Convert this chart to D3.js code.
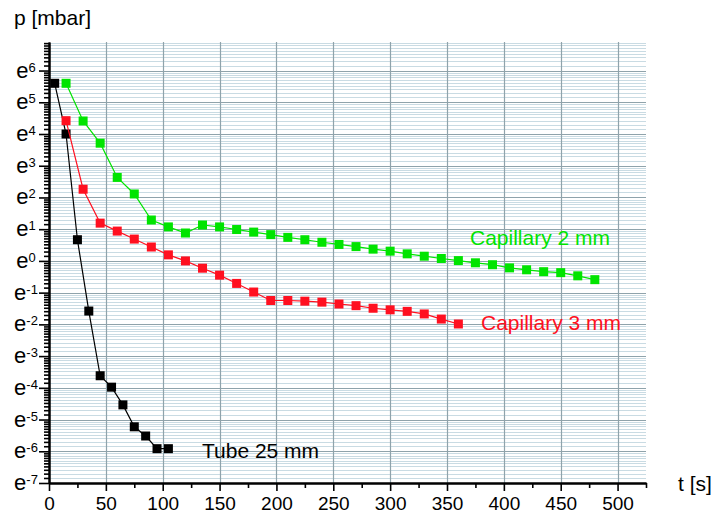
<!DOCTYPE html>
<html>
<head>
<meta charset="utf-8">
<script src="https://cdn.jsdelivr.net/npm/d3@7"></script>
<style>
  body { margin: 0; background: #fff; }
  text { font-family: "Liberation Sans", Arial, sans-serif; }
</style>
</head>
<body>
<div class="chart"></div>
<script>
// data (t in s, p in mbar)
var tubeTime = [5, 15, 25, 35, 45, 55, 65, 75, 85, 95, 105];
var tubeP = [270, 54.6, 1.95, 0.206, 0.0268, 0.0187, 0.0107, 0.00536, 0.00401, 0.00269, 0.00269];

var cap3Time = [15, 30, 45, 60, 75, 90, 105, 120, 135, 150, 165, 180, 195, 210, 225, 240,
  255, 270, 285, 300, 315, 330, 345, 360];
var cap3P = [83.1, 9.58, 3.29, 2.56, 1.99, 1.55, 1.21, 1.00, 0.795, 0.638, 0.492, 0.375,
  0.287, 0.287, 0.281, 0.273, 0.257, 0.244, 0.225, 0.214, 0.204, 0.188, 0.160, 0.137];

var cap2Time = [15, 30, 45, 60, 75, 90, 105, 120, 135, 150, 165, 180, 195, 210, 225, 240,
  255, 270, 285, 300, 315, 330, 345, 360, 375, 390, 405, 420, 435, 450, 465, 480];
var cap2P = [270, 82.3, 40.9, 13.9, 8.25, 3.63, 2.92, 2.41, 3.10, 2.92, 2.69, 2.48, 2.29,
  2.10, 1.95, 1.80, 1.68, 1.57, 1.45, 1.36, 1.25, 1.16, 1.08, 1.01, 0.942, 0.887, 0.803,
  0.756, 0.712, 0.691, 0.625, 0.554];

var xTicks = [0, 50, 100, 150, 200, 250, 300, 350, 400, 450, 500];
var xMinorTicks = [25, 75, 125, 175, 225, 275, 325, 375, 425, 475, 525];
var yExponents = [-7, -6, -5, -4, -3, -2, -1, 0, 1, 2, 3, 4, 5, 6];

var svgWidth = 714;
var svgHeight = 519;

var margin = {
  top: 42,
  right: 68,
  bottom: 36,
  left: 49
};

var width = svgWidth - margin.left - margin.right;
var height = svgHeight - margin.top - margin.bottom;

var svg = d3.select(".chart")
  .append("svg")
  .attr("width", svgWidth)
  .attr("height", svgHeight);

var chartGroup = svg.append("g")
  .attr("transform", `translate(${margin.left}, ${margin.top})`);

var xScale = d3.scaleLinear()
  .domain([0, 525])
  .range([0, width]);

var yScale = d3.scaleLog()
  .base(Math.E)
  .domain([Math.exp(-7), Math.exp(6.9)])
  .range([height, 0]);

// minor values inside each e-decade
var yMinor = [];
yExponents.forEach(function(n) {
  for (var k = 1; k <= 9; k++) {
    var v = Math.exp(n) * (1 + k * (Math.E - 1) / 10);
    if (v <= Math.exp(6.93)) yMinor.push(v);
  }
});
var yMajor = yExponents.map(n => Math.exp(n));

// grid
chartGroup.append("g")
  .selectAll("line")
  .data(yMinor)
  .enter()
  .append("line")
  .attr("x1", 0)
  .attr("x2", width)
  .attr("y1", d => Math.round(yScale(d)) + 0.5)
  .attr("y2", d => Math.round(yScale(d)) + 0.5)
  .attr("stroke", "#c9dbe3")
  .attr("stroke-width", 1);

chartGroup.append("g")
  .selectAll("line")
  .data(yMajor)
  .enter()
  .append("line")
  .attr("x1", 0)
  .attr("x2", width)
  .attr("y1", d => Math.round(yScale(d)) + 0.5)
  .attr("y2", d => Math.round(yScale(d)) + 0.5)
  .attr("stroke", "#8fa3ab")
  .attr("stroke-width", 1.2);

chartGroup.append("g")
  .selectAll("line")
  .data(xTicks.slice(1))
  .enter()
  .append("line")
  .attr("x1", d => Math.round(xScale(d)) + 0.5)
  .attr("x2", d => Math.round(xScale(d)) + 0.5)
  .attr("y1", 0)
  .attr("y2", height)
  .attr("stroke", "#8fa3ab")
  .attr("stroke-width", 1.2);

// axes
var bottomAxis = d3.axisBottom(xScale)
  .tickValues(xTicks)
  .tickSize(8)
  .tickSizeOuter(0)
  .tickPadding(6);

var bottomMinor = d3.axisBottom(xScale)
  .tickValues(xMinorTicks)
  .tickSize(5)
  .tickSizeOuter(0)
  .tickFormat("");

var leftAxis = d3.axisLeft(yScale)
  .tickValues(yMajor)
  .tickSize(10)
  .tickSizeOuter(0)
  .tickFormat("");

var leftMinor = d3.axisLeft(yScale)
  .tickValues(yMinor)
  .tickSize(5)
  .tickSizeOuter(0)
  .tickFormat("");

var gx = chartGroup.append("g")
  .attr("transform", `translate(0, ${height})`)
  .call(bottomMinor);
var gx2 = chartGroup.append("g")
  .attr("transform", `translate(0, ${height})`)
  .call(bottomAxis);
var gy = chartGroup.append("g").call(leftMinor);
var gy2 = chartGroup.append("g").call(leftAxis);

[gx, gx2, gy, gy2].forEach(function(g) {
  g.select(".domain").attr("stroke", "#000").attr("stroke-width", 2);
  g.selectAll(".tick line").attr("stroke", "#000").attr("stroke-width", 1.6);
});

gx2.selectAll(".tick text")
  .style("font-size", "19px")
  .style("font-family", "Liberation Sans, Arial, sans-serif")
  .attr("fill", "#000");

// y tick labels e^n
var yLabels = chartGroup.append("g")
  .selectAll("text")
  .data(yExponents)
  .enter()
  .append("text")
  .attr("x", -23)
  .attr("y", d => yScale(Math.exp(d)) + 7)
  .attr("text-anchor", "middle")
  .attr("fill", "#000");
yLabels.append("tspan")
  .style("font-size", "22px")
  .text("e");
yLabels.append("tspan")
  .style("font-size", "13px")
  .attr("dy", -6)
  .text(d => d);

// series
var series = [
  { name: "Tube 25 mm", t: tubeTime, p: tubeP, color: "#000000" },
  { name: "Capillary 3 mm", t: cap3Time, p: cap3P, color: "#ff1020" },
  { name: "Capillary 2 mm", t: cap2Time, p: cap2P, color: "#00e400" }
];

var line = d3.line()
  .x(d => xScale(d[0]))
  .y(d => yScale(d[1]));

series.forEach(function(s) {
  var pts = s.t.map((t, i) => [t, s.p[i]]);
  chartGroup.append("path")
    .datum(pts)
    .attr("d", line)
    .attr("fill", "none")
    .attr("stroke", s.color)
    .attr("stroke-width", 1.2);
  chartGroup.append("g")
    .selectAll("rect")
    .data(pts)
    .enter()
    .append("rect")
    .attr("x", d => xScale(d[0]) - 4.5)
    .attr("y", d => yScale(d[1]) - 4.5)
    .attr("width", 9)
    .attr("height", 9)
    .attr("fill", s.color);
});

// series labels
svg.append("text")
  .attr("x", 470)
  .attr("y", 245)
  .style("font-size", "21px")
  .attr("fill", "#00e400")
  .text("Capillary 2 mm");

svg.append("text")
  .attr("x", 481)
  .attr("y", 330)
  .style("font-size", "21px")
  .attr("fill", "#ff1020")
  .text("Capillary 3 mm");

svg.append("text")
  .attr("x", 202)
  .attr("y", 458)
  .style("font-size", "21px")
  .attr("fill", "#000")
  .text("Tube 25 mm");

// axis titles
svg.append("text")
  .attr("x", 14)
  .attr("y", 25)
  .style("font-size", "21px")
  .attr("fill", "#000")
  .text("p [mbar]");

svg.append("text")
  .attr("x", 678)
  .attr("y", 491)
  .style("font-size", "21px")
  .attr("fill", "#000")
  .text("t [s]");
</script>
</body>
</html>
